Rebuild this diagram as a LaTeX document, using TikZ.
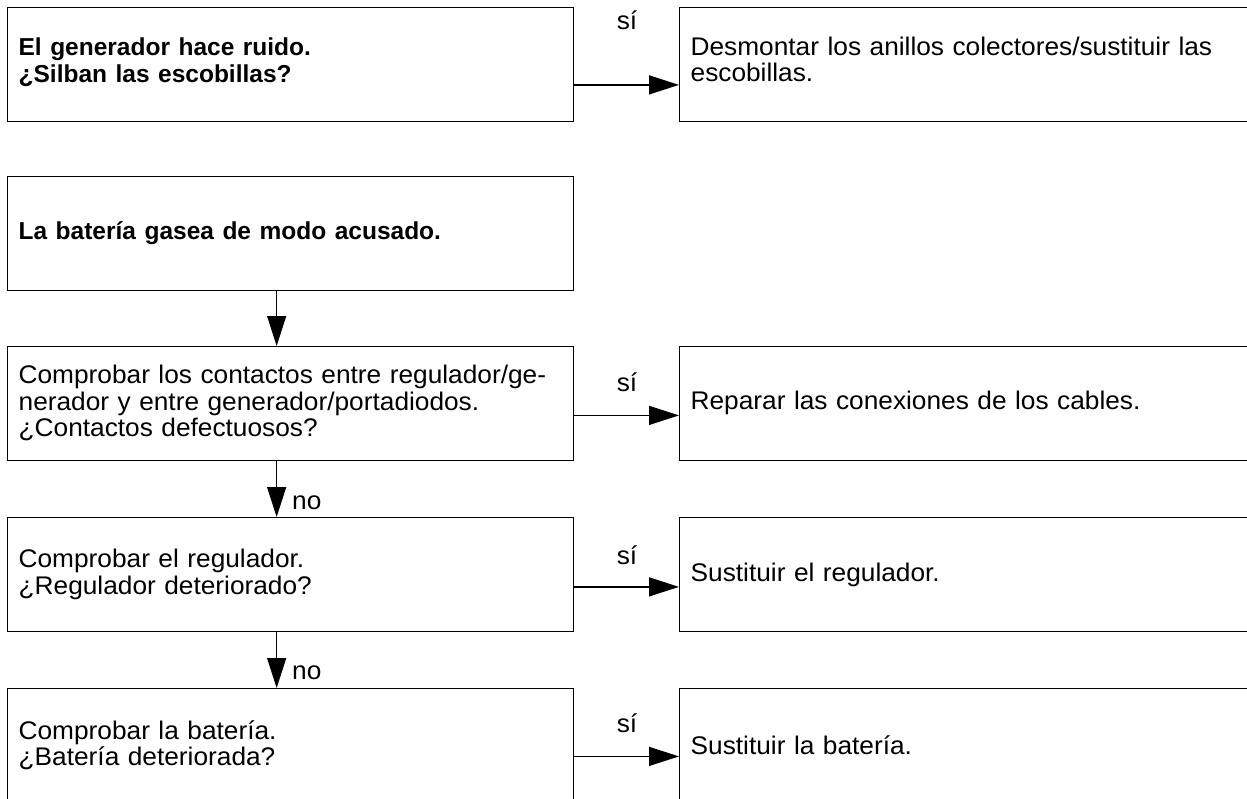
\documentclass[tikz,border=0pt]{standalone}
\usepackage{fontspec}
\setmainfont{Liberation Sans}[FakeStretch=1.03]
\newfontfamily\hbold{Liberation Sans Bold}
\newcommand\bt{\fontsize{24.5}{26.5}\hbold}
\usetikzlibrary{arrows.meta}
\begin{document}
\begin{tikzpicture}[x=1pt,y=1pt,
  txt/.style={font=\fontsize{25.5}{26.5}\selectfont},
  lbox/.style={txt, draw, line width=1.3pt, anchor=north west, minimum width=566pt, minimum height=113.5pt, inner xsep=0pt, inner ysep=0pt, text width=544pt, align=left},
  rbox/.style={txt, draw, line width=1.3pt, anchor=north west, minimum width=600pt, minimum height=113.5pt, inner xsep=0pt, inner ysep=0pt, text width=578pt, align=left},
  arr/.style={line width=1.3pt, -{Triangle[length=30pt,width=19pt]}},
  lab/.style={txt, inner sep=0pt}
]
\useasboundingbox (0,0) rectangle (1247,-798);
\clip (0,0) rectangle (1247,-798);

\node[lbox] (q1) at (7,-7) {\bt El generador hace ruido.\\ \bt ¿Silban las escobillas?\\[-18pt]\mbox{}};
\node[rbox] (a1) at (679,-7) {Desmontar los anillos colectores/sustituir las\\ escobillas.\\[-16pt]\mbox{}};
\node[lbox] (q2) at (7,-176) {\bt La batería gasea de modo acusado.};
\node[lbox] (q3) at (7,-346) {Comprobar los contactos entre regulador/ge-\\ nerador y entre generador/portadiodos.\\ ¿Contactos defectuosos?};
\node[rbox] (a3) at (679,-346) {Reparar las conexiones de los cables.};
\node[lbox] (q4) at (7,-517) {Comprobar el regulador.\\ ¿Regulador deteriorado?};
\node[rbox] (a4) at (679,-517) {Sustituir el regulador.};
\node[lbox] (q5) at (7,-688) {Comprobar la batería.\\ ¿Batería deteriorada?};
\node[rbox] (a5) at (679,-688) {Sustituir la batería.};

\draw[arr] ([yshift=-20.5pt]q1.east) -- ([yshift=-20.5pt]a1.west);
\draw[arr] ([yshift=-12pt]q3.east) -- ([yshift=-12pt]a3.west);
\draw[arr] ([yshift=-12.5pt]q4.east) -- ([yshift=-12.5pt]a4.west);
\draw[arr] ([yshift=-11pt]q5.east) -- ([yshift=-11pt]a5.west);

\draw[arr] ([xshift=-14pt]q2.south) -- ([xshift=-14pt]q3.north);
\draw[arr] ([xshift=-14pt]q3.south) -- ([xshift=-14pt]q4.north);
\draw[arr] ([xshift=-14pt]q4.south) -- ([xshift=-14pt]q5.north);

\node[lab] (s1) at (627,-20) {sí};
\node[lab] (s3) at (627,-382) {sí};
\node[lab] (s4) at (627,-555) {sí};
\node[lab] (s5) at (627,-723) {sí};
\node[lab, anchor=west] (n4) at (292,-503) {no};
\node[lab, anchor=west] (n5) at (292,-673) {no};
\end{tikzpicture}
\end{document}
